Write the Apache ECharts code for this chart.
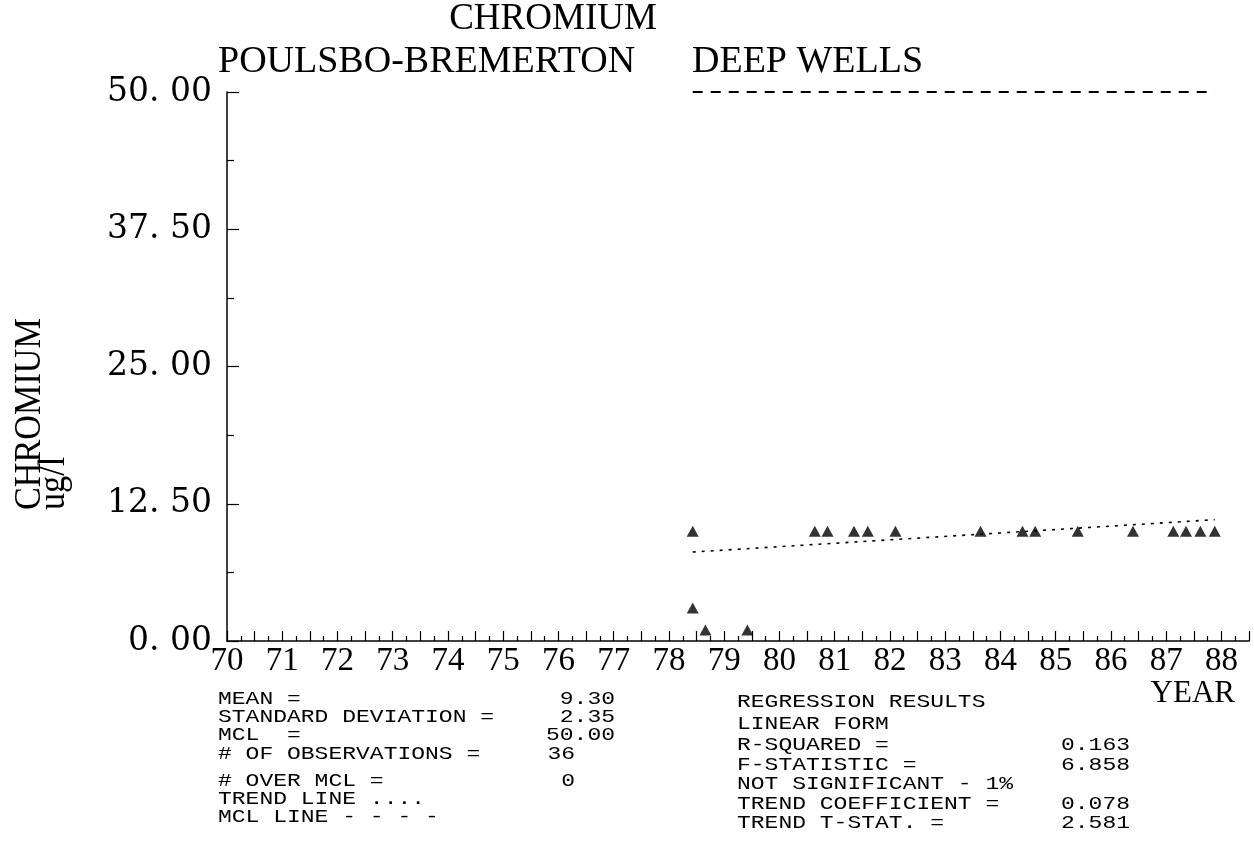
<!DOCTYPE html>
<html>
<head>
<meta charset="utf-8">
<script src="https://cdn.jsdelivr.net/npm/echarts@6/dist/echarts.min.js"></script>
<style>
html,body{margin:0;padding:0;background:#fff;}
#chart{width:1254px;height:860px;}
</style>
</head>
<body>
<div id="chart"></div>
<script>
// ---- data ----
var titleLines = ['CHROMIUM', 'POULSBO-BREMERTON  DEEP WELLS'];
var yAxisNameLines = ['CHROMIUM', 'ug/l'];
var xAxisName = 'YEAR';
var obsYears  = [78.43, 78.43, 78.66, 79.42, 80.64, 80.87, 81.35, 81.60, 82.10, 83.64, 84.40, 84.63, 85.40, 86.40, 87.13, 87.36, 87.62, 87.88];
var obsValues = [10, 3, 1, 1, 10, 10, 10, 10, 10, 10, 10, 10, 10, 10, 10, 10, 10, 10];
var trendYears  = [78.43, 87.88];
var trendValues = [8.1, 11.05];
var mclYears  = [78.43, 87.88];
var mclValues = [50, 50];
var statLabels = ['MEAN =', 'STANDARD DEVIATION =', 'MCL  =', '# OF OBSERVATIONS =', '# OVER MCL =', 'TREND LINE ....', 'MCL LINE - - - -'];
var statValues = ['9.30', '2.35', '50.00', '36', '0', '', ''];
var regLabels = ['REGRESSION RESULTS', 'LINEAR FORM', 'R-SQUARED =', 'F-STATISTIC =', 'NOT SIGNIFICANT - 1%', 'TREND COEFFICIENT =', 'TREND T-STAT. ='];
var regValues = ['', '', '0.163', '6.858', '', '0.078', '2.581'];

// ---- layout ----
var MONO = "'Liberation Mono', 'DejaVu Sans Mono', monospace";
var SERIF = "'Liberation Serif', 'DejaVu Serif', serif";
var DSERIF = "'DejaVu Serif', 'Liberation Serif', serif";
var chart = echarts.init(document.getElementById('chart'), null, {renderer: 'canvas'});

function txt(t, x, y, font, align, extra) {
  var el = {type: 'text', x: x, y: y, style: {text: t, font: font, fill: '#000', textAlign: align || 'left', textVerticalAlign: 'middle'}};
  if (extra) for (var k in extra) el[k] = extra[k];
  return el;
}

var graphics = [];
graphics.push(txt(titleLines[0], 553, 19, '37px ' + SERIF, 'center'));
var t2 = titleLines[1].split(/\s{2,}/);
graphics.push(txt(t2[0], 218, 62, '38px ' + SERIF, 'left'));
graphics.push(txt(t2[1], 692, 62, '38px ' + SERIF, 'left'));
graphics.push(txt(yAxisNameLines[0], 30, 510, '38px ' + SERIF, 'left', {rotation: Math.PI / 2, scaleX: 0.9}));
graphics.push(txt(yAxisNameLines[1], 54, 510, '38px ' + SERIF, 'left', {rotation: Math.PI / 2, scaleX: 0.9}));
graphics.push(txt(xAxisName, 1235, 694, '31px ' + SERIF, 'right'));

var STAT_FONT = '23px ' + MONO;
var SY = {scaleY: 0.82};
var leftY = [699, 717, 735.5, 754, 781, 799, 817.5];
var leftValX = [615, 615, 615, 575, 575, 575, 575];
statLabels.forEach(function (t, i) {
  graphics.push(txt(t, 218, leftY[i], STAT_FONT, 'left', SY));
  if (statValues[i]) graphics.push(txt(statValues[i], leftValX[i], leftY[i], STAT_FONT, 'right', SY));
});
var rightY = [702, 724, 745, 765, 784, 804, 823];
regLabels.forEach(function (t, i) {
  graphics.push(txt(t, 737, rightY[i], STAT_FONT, 'left', SY));
  if (regValues[i]) graphics.push(txt(regValues[i], 1061, rightY[i], STAT_FONT, 'left', SY));
});

function zip(a, b) { return a.map(function (v, i) { return [v, b[i]]; }); }

var option = {
  backgroundColor: '#fff',
  animation: false,
  grid: {left: 227, right: 5, top: 92, bottom: 219, containLabel: false},
  xAxis: {
    type: 'value', min: 70, max: 88.5, interval: 0.5,
    axisLine: {show: true, onZero: false, lineStyle: {color: '#000', width: 1.5}},
    axisTick: {show: true, inside: true, length: 10, lineStyle: {color: '#000', width: 1.2}},
    minorTick: {show: true, splitNumber: 2, length: 5, lineStyle: {color: '#000', width: 1.2}},
    splitLine: {show: false},
    axisLabel: {
      margin: 4, color: '#000', fontFamily: SERIF, fontSize: 33, showMaxLabel: false,
      formatter: function (v) { return Math.abs(v - Math.round(v)) < 1e-6 ? String(Math.round(v)) : ''; }
    }
  },
  yAxis: {
    type: 'value', min: 0, max: 50, interval: 12.5,
    axisLine: {show: true, lineStyle: {color: '#000', width: 1.5}},
    axisTick: {show: true, inside: true, length: 12, lineStyle: {color: '#000', width: 1.2}},
    minorTick: {show: true, splitNumber: 2, length: 7, lineStyle: {color: '#000', width: 1.2}},
    splitLine: {show: false},
    axisLabel: {margin: 15, color: '#000', fontFamily: DSERIF, fontSize: 33,
      formatter: function (v) { return v.toFixed(2).replace('.', '. '); }}
  },
  graphic: graphics,
  series: [
    {type: 'line', data: zip(mclYears, mclValues), symbol: 'none', lineStyle: {color: '#000', width: 2, type: [10, 8]}, z: 2},
    {type: 'line', data: zip(trendYears, trendValues), symbol: 'none', lineStyle: {color: '#000', width: 1.6, type: [3, 6]}, z: 2},
    {type: 'scatter', data: zip(obsYears, obsValues), symbol: 'triangle', symbolSize: [12, 11], itemStyle: {color: '#000'}, z: 3}
  ]
};
chart.setOption(option);
</script>
</body>
</html>
